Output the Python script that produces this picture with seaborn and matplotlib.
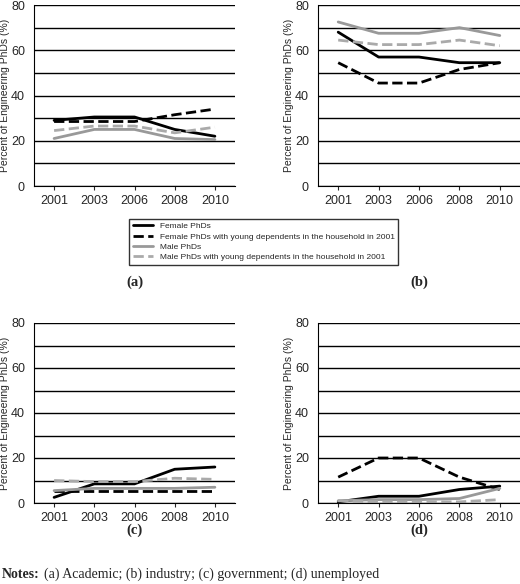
import matplotlib
matplotlib.use('Agg')
import matplotlib.pyplot as plt
import seaborn as sns
import pandas as pd

years = ["2001", "2003", "2006", "2008", "2010"]
series_names = ["Female PhDs",
                "Female PhDs with young dependents in the household in 2001",
                "Male PhDs",
                "Male PhDs with young dependents in the household in 2001"]

academic = [[29, 30.5, 30.5, 25, 22],
            [28.5, 28.5, 28.5, 31.5, 34],
            [21, 25, 25, 21, 20.5],
            [24.5, 26.5, 26.5, 23.5, 26]]
industry = [[68, 57, 57, 54.5, 54.5],
            [54.5, 45.5, 45.5, 51.5, 54.5],
            [72.5, 67.5, 67.5, 70, 66.5],
            [64.5, 62.5, 62.5, 64.5, 62]]
government = [[2.5, 8.5, 8.5, 15, 16],
              [5.5, 5.5, 5.5, 5.5, 5.5],
              [5.5, 6.5, 6.5, 6.5, 7],
              [10, 9.5, 9.5, 11, 10.5]]
unemployed = [[0.5, 3, 3, 6, 7.5],
              [11.5, 20, 20, 11.5, 6],
              [1, 1.5, 1.5, 2, 6.5],
              [1, 0.5, 0.5, 0.5, 1.5]]

panels = [("(a)", academic), ("(b)", industry), ("(c)", government), ("(d)", unemployed)]
colors = ["black", "black", "#999999", "#aaaaaa"]
dashes = ["-", "--", "-", "--"]

sns.set_style("white")
plt.rcParams['font.family'] = ['Liberation Sans', 'DejaVu Sans']

fig = plt.figure(figsize=(5.2, 5.84), dpi=100)
W, H = 520, 584
boxes = [(34, 5, 201, 181), (318, 5, 202, 181), (34, 323, 201, 180), (318, 323, 202, 180)]

for (label, data), (x0, y0, w, h) in zip(panels, boxes):
    ax = fig.add_axes([x0 / W, 1 - (y0 + h) / H, w / W, h / H])
    for i, name in enumerate(series_names):
        df = pd.DataFrame({"x": range(len(years)), "y": data[i]})
        sns.lineplot(data=df, x="x", y="y", ax=ax, color=colors[i],
                     linestyle=dashes[i], linewidth=2, label=name, legend=False)
    ax.set_xlim(-0.5, 4.5)
    ax.set_ylim(0, 80)
    ax.set_yticks(range(0, 90, 20))
    ax.set_yticks(range(0, 90, 10), minor=True)
    ax.yaxis.grid(True, which="both", color="black", linewidth=1)
    ax.set_xticks(range(len(years)))
    ax.set_xticklabels(years)
    ax.tick_params(labelsize=9, length=3, direction="out", bottom=True)
    ax.tick_params(axis="y", which="minor", length=0)
    for s in ["top", "right"]:
        ax.spines[s].set_visible(False)
    for s in ["left", "bottom"]:
        ax.spines[s].set_color("black")
    ax.set_xlabel("")
    ax.set_ylabel("Percent of Engineering PhDs (%)", fontsize=7.5)
    ax.yaxis.set_label_coords(-24 / w, 0.5)
    cx = (x0 + w / 2) / W
    ly = 282 if y0 < 100 else 530
    fig.text(cx, 1 - ly / H, label, ha="center", va="center",
             fontsize=10.5, fontweight="bold", family="Liberation Serif")
    if label == "(a)":
        handles, labels = ax.get_legend_handles_labels()

fig.legend(handles, labels, loc="upper left", bbox_to_anchor=(125 / W, 1 - 215 / H),
           fontsize=6, frameon=True, fancybox=False, edgecolor="black",
           handlelength=2.5, borderpad=0.4, labelspacing=0.3)

fig.text(2 / W, 1 - 574 / H, "Notes:", fontsize=10, fontweight="bold",
         family="Liberation Serif", va="center")
fig.text(44 / W, 1 - 574 / H, "(a) Academic; (b) industry; (c) government; (d) unemployed",
         fontsize=10, family="Liberation Serif", va="center")

fig.savefig("out.png", dpi=100)
